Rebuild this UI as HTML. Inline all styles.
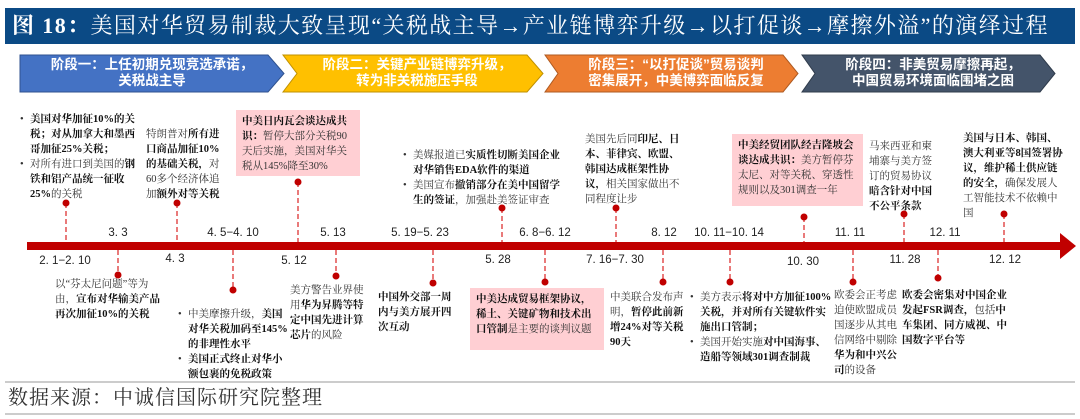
<!DOCTYPE html>
<html><head><meta charset="utf-8">
<style>
*{margin:0;padding:0;box-sizing:border-box}
body{width:1080px;height:419px;background:#fff;position:relative;overflow:hidden;font-family:"Liberation Sans","Noto Sans CJK SC",sans-serif;color:#222}
.t{position:absolute;font-size:10.5px;line-height:15px;color:#333;font-family:"Liberation Serif","Noto Serif CJK SC",serif}
.t b{color:#111;font-weight:bold}
.pk{background:#ffcfd3;padding:4px 6px}
.d{position:absolute;font-size:11.5px;color:#222;white-space:nowrap;transform:translateX(-50%)}
ul{list-style:none}
ul li{padding-left:10px;position:relative}
ul li:before{content:"•";position:absolute;left:0}
</style></head><body>
<div style="position:absolute;left:5px;top:8px;width:1070px;height:36px;background:#0b4a85"></div>
<div style="position:absolute;left:12px;top:10px;color:#fff;font-size:22px;line-height:32px;font-family:'Liberation Serif','Noto Serif CJK SC',serif;letter-spacing:1.4px;white-space:nowrap"><b>图 18：</b>美国对华贸易制裁大致呈现“关税战主导→产业链博弈升级→以打促谈→摩擦外溢”的演绎过程</div>

<svg style="position:absolute;left:0;top:0" width="1080" height="419">
<polygon points="20,55 268,55 284,73.5 268,92 20,92" fill="#4472c4" stroke="#2f528f" stroke-width="1"/>
<polygon points="283,55 527,55 543,73.5 527,92 283,92 297,73.5" fill="#ffc000" stroke="#bf9000" stroke-width="1"/>
<polygon points="545,55 783,55 798,73.5 783,92 545,92 558,73.5" fill="#ed7d31" stroke="#ae5a21" stroke-width="1"/>
<polygon points="802,55 1040,55 1055,73.5 1040,92 802,92 815,73.5" fill="#44546a" stroke="#2f3b4b" stroke-width="1"/>
<rect x="27" y="242" width="1035" height="8" fill="#c00000"/>
<polygon points="1060,233 1076,246 1060,259" fill="#c00000"/>
<g stroke="#d33" stroke-width="1.3" stroke-dasharray="5,3">
<line x1="66" y1="203" x2="66" y2="242"/>
<line x1="177" y1="203" x2="177" y2="242"/>
<line x1="298" y1="182" x2="298" y2="242"/>
<line x1="502" y1="208" x2="502" y2="242"/>
<line x1="616" y1="208" x2="616" y2="242"/>
<line x1="804" y1="217" x2="804" y2="242"/>
<line x1="904" y1="214" x2="904" y2="242"/>
<line x1="1004" y1="214" x2="1004" y2="242"/>
<line x1="118" y1="250" x2="118" y2="275"/>
<line x1="233" y1="250" x2="233" y2="290"/>
<line x1="336" y1="250" x2="336" y2="276"/>
<line x1="433" y1="250" x2="433" y2="283"/>
<line x1="545" y1="250" x2="545" y2="282"/>
<line x1="663" y1="250" x2="663" y2="282"/>
<line x1="730" y1="250" x2="730" y2="282"/>
<line x1="853" y1="250" x2="853" y2="282"/>
<line x1="938" y1="250" x2="938" y2="278"/>
</g>
<g fill="#c00000">
<circle cx="66" cy="203" r="3.5"/><circle cx="177" cy="203" r="3.5"/><circle cx="298" cy="182" r="3.5"/>
<circle cx="502" cy="208" r="3.5"/><circle cx="616" cy="208" r="3.5"/><circle cx="804" cy="217" r="3.5"/>
<circle cx="904" cy="214" r="3.5"/><circle cx="1004" cy="214" r="3.5"/>
<circle cx="118" cy="275" r="3.5"/><circle cx="233" cy="290" r="3.5"/><circle cx="336" cy="276" r="3.5"/>
<circle cx="433" cy="283" r="3.5"/><circle cx="545" cy="282" r="3.5"/><circle cx="663" cy="282" r="3.5"/>
<circle cx="730" cy="282" r="3.5"/><circle cx="853" cy="282" r="3.5"/><circle cx="938" cy="278" r="3.5"/>
</g>
<line x1="5" y1="382" x2="1075" y2="382" stroke="#999" stroke-width="1"/>
<line x1="5" y1="414" x2="1075" y2="414" stroke="#999" stroke-width="1"/>
</svg>

<div style="position:absolute;left:20px;top:57px;width:264px;text-align:center;color:#fff;font-weight:bold;font-size:13.5px;line-height:16px">阶段一：上任初期兑现竞选承诺，<br>关税战主导</div>
<div style="position:absolute;left:297px;top:57px;width:240px;text-align:center;color:#fff;font-weight:bold;font-size:13.5px;line-height:16px">阶段二：关键产业链博弈升级，<br>转为非关税施压手段</div>
<div style="position:absolute;left:558px;top:57px;width:236px;text-align:center;color:#fff;font-weight:bold;font-size:13.5px;line-height:16px">阶段三：“以打促谈”贸易谈判<br>密集展开，中美博弈面临反复</div>
<div style="position:absolute;left:815px;top:57px;width:236px;text-align:center;color:#fff;font-weight:bold;font-size:13.5px;line-height:16px">阶段四：非美贸易摩擦再起，<br>中国贸易环境面临围堵之困</div>

<div class="d" style="left:118px;top:227px">3. 3</div>
<div class="d" style="left:233px;top:227px">4. 5−4. 10</div>
<div class="d" style="left:333px;top:227px">5. 13</div>
<div class="d" style="left:420px;top:227px">5. 19−5. 23</div>
<div class="d" style="left:545px;top:227px">6. 8−6. 12</div>
<div class="d" style="left:664px;top:227px">8. 12</div>
<div class="d" style="left:729px;top:227px">10. 11−10. 14</div>
<div class="d" style="left:850px;top:227px">11. 11</div>
<div class="d" style="left:945px;top:227px">12. 11</div>
<div class="d" style="left:65px;top:255px">2. 1−2. 10</div>
<div class="d" style="left:175px;top:253px">4. 3</div>
<div class="d" style="left:294px;top:255px">5. 12</div>
<div class="d" style="left:498px;top:254px">5. 28</div>
<div class="d" style="left:615px;top:254px">7. 16−7. 30</div>
<div class="d" style="left:803px;top:256px">10. 30</div>
<div class="d" style="left:905px;top:254px">11. 28</div>
<div class="d" style="left:1005px;top:254px">12. 12</div>

<ul class="t" style="left:20px;top:112px;width:122px"><li><b>美国对华加征10%的关税；对从加拿大和墨西哥加征25%关税；</b></li><li>对所有进口到美国的<b>钢铁和铝产品统一征收25%</b>的关税</li></ul>
<div class="t" style="left:146px;top:127px;width:80px">特朗普对<b>所有进口商品加征10%的基础关税，</b>对60多个经济体追加<b>额外对等关税</b></div>
<div class="t pk" style="left:236px;top:110px;width:124px;height:66px"><b>中美日内瓦会谈达成共识：</b>暂停大部分关税90天后实施，美国对华关税从145%降至30%</div>
<ul class="t" style="left:403px;top:148px;width:162px"><li>美媒报道已<b>实质性切断美国企业对华销售EDA软件的渠道</b></li><li>美国宣布<b>撤销部分在美中国留学生的签证</b>，加强赴美签证审查</li></ul>
<div class="t" style="left:585px;top:132px;width:100px">美国先后同<b>印尼、日本、菲律宾、欧盟、韩国达成框架性协议，</b>相关国家做出不同程度让步</div>
<div class="t pk" style="left:732px;top:134px;width:131px;height:72px"><b>中美经贸团队经吉隆坡会谈达成共识：</b>美方暂停芬太尼、对等关税、穿透性规则以及301调查一年</div>
<div class="t" style="left:869px;top:139px;width:68px">马来西亚和柬埔寨与美方签订的贸易协议<b>暗含针对中国不公平条款</b></div>
<div class="t" style="left:963px;top:131px;width:102px"><b>美国与日本、韩国、澳大利亚等8国签署协议，维护稀土供应链的安全，</b>确保发展人工智能技术不依赖中国</div>

<div class="t" style="left:55px;top:277px;width:110px">以“芬太尼问题”等为由，<b>宣布对华输美产品再次加征10%的关税</b></div>
<ul class="t" style="left:178px;top:307px;width:110px"><li>中美摩擦升级，<b>美国对华关税加码至145%的非理性水平</b></li><li><b>美国正式终止对华小额包裹的免税政策</b></li></ul>
<div class="t" style="left:290px;top:283px;width:78px">美方警告业界使用<b>华为昇腾等特定中国先进计算芯片</b>的风险</div>
<div class="t" style="left:378px;top:290px;width:80px"><b>中国外交部一周内与美方展开四次互动</b></div>
<div class="t pk" style="left:470px;top:288px;width:134px;height:62px"><b>中美达成贸易框架协议，稀土、关键矿物和技术出口管制</b>是主要的谈判议题</div>
<div class="t" style="left:610px;top:290px;width:80px">中美联合发布声明，<b>暂停此前新增24%对等关税90天</b></div>
<ul class="t" style="left:690px;top:290px;width:142px"><li>美方表示<b>将对中方加征100%关税，并对所有关键软件实施出口管制；</b></li><li>美国开始实施<b>对中国海事、造船等领域301调查制裁</b></li></ul>
<div class="t" style="left:834px;top:288px;width:64px">欧委会正考虑迫使欧盟成员国逐步从其电信网络中剔除<b>华为和中兴公司</b>的设备</div>
<div class="t" style="left:902px;top:288px;width:112px"><b>欧委会密集对中国企业发起FSR调查，</b>包括<b>中车集团、同方威视、中国数字平台等</b></div>

<div style="position:absolute;left:8px;top:384px;font-size:20px;line-height:28px;color:#333;font-family:'Liberation Serif','Noto Serif CJK SC',serif;letter-spacing:1px">数据来源：中诚信国际研究院整理</div>
</body></html>
